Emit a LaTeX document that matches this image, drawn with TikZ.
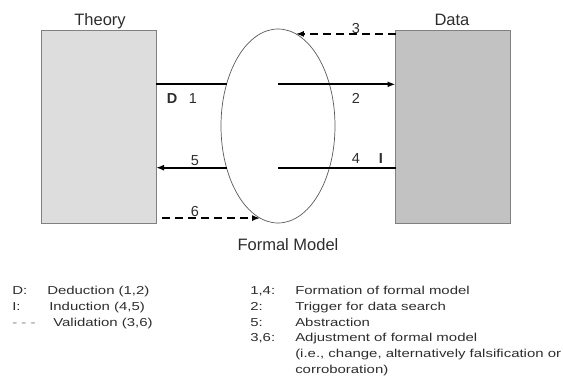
\documentclass[tikz,border=0pt]{standalone}
\usepackage{fontspec}
\setmainfont{Liberation Sans}
\usepackage{tikz}
\usetikzlibrary{shapes.geometric,arrows.meta}
\definecolor{theorygray}{RGB}{221,221,221}
\definecolor{datagray}{RGB}{194,194,194}
\definecolor{textgray}{RGB}{45,45,45}

\begin{document}
\begin{tikzpicture}[x=1pt,y=-1pt,
  box/.style={draw=gray,line width=0.8pt,minimum width=115pt,minimum height=193pt,inner sep=0pt,outer sep=0pt},
  conn/.style={line width=1.8pt},
  valid/.style={line width=1.8pt,dash pattern=on 8pt off 5pt},
  tip/.style={-{Latex[length=8pt,width=6pt]}},
  lbl/.style={anchor=base,font=\fontsize{14.5}{16}\selectfont,text=textgray,inner sep=0pt},
  ttl/.style={anchor=base,font=\fontsize{16.5}{18}\selectfont,text=textgray,inner sep=0pt},
  leg/.style={anchor=base west,font=\fontsize{11.5}{13}\selectfont,text=textgray,inner sep=0pt,xscale=1.3}]
  \useasboundingbox (0,0) rectangle (563,386);
  % boxes and the model
  \node[box,fill=theorygray] (theory) at (98.5,126.5) {};
  \node[box,fill=datagray] (data) at (453,126.5) {};
  \node[ellipse,draw=gray!70!black,line width=0.7pt,minimum width=114pt,minimum height=194pt,inner sep=0pt,outer sep=0pt] (model) at (278,126) {};
  \node[ttl] (theorylbl) at (100,25) {Theory};
  \node[ttl] (datalbl) at (452,25) {Data};
  \node[ttl] (modellbl) at (288,250) {Formal Model};
  % connectors
  \draw[conn] (theory.east |- model.141) -- (model.141);
  \draw[conn,tip] (model.center |- model.141) -- (data.west |- model.141);
  \draw[conn,tip] (model.219) -- (theory.east |- model.219);
  \draw[conn] (model.center |- model.219) -- (data.west |- model.219);
  \draw[valid,tip] (data.west |- model.79) -- (model.79);
  \draw[valid,tip,shorten <=6pt] (theory.east |- model.259) -- (model.259);
  \node[lbl] (dlbl) at (172,103) {\bfseries D};
  \node[lbl] (one) at (193,103) {1};
  \node[lbl] (two) at (356,103) {2};
  \node[lbl] (five) at (195,165) {5};
  \node[lbl] (four) at (356,163) {4};
  \node[lbl] (ilbl) at (381,163) {\bfseries I};
  \node[lbl] (three) at (356,33) {3};
  \node[lbl] (six) at (195,216) {6};
  % legend
  \node[leg] (kd) at (12,294) {D:};
  \node[leg] (ki) at (12,310) {I:};
  \node[leg,text=gray] (kv) at (12,326) {- - -};
  \node[leg] (td) at (47,294) {Deduction (1,2)};
  \node[leg] (ti) at (49,310) {Induction (4,5)};
  \node[leg] (tv) at (53,326) {Validation (3,6)};
  \node[leg] (k14) at (250,294) {1,4:};
  \node[leg] (k2) at (250,310) {2:};
  \node[leg] (k5) at (250,326) {5:};
  \node[leg] (k36) at (250,341) {3,6:};
  \node[leg] (t14) at (295,294) {Formation of formal model};
  \node[leg] (t2) at (295,310) {Trigger for data search};
  \node[leg] (t5) at (295,326) {Abstraction};
  \node[leg] (t36) at (295,341) {Adjustment of formal model};
  \node[leg] (t36b) at (295,357) {(i.e., change, alternatively falsification or};
  \node[leg] (t36c) at (295,373) {corroboration)};
\end{tikzpicture}
\end{document}
